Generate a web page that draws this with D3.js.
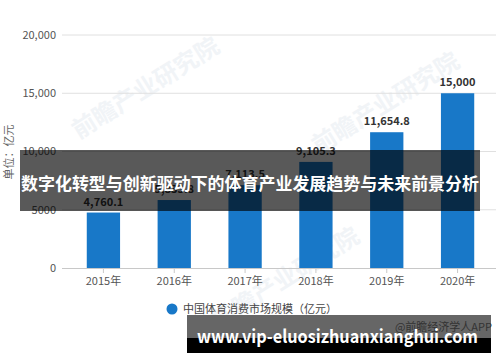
<!DOCTYPE html>
<html><head><meta charset="utf-8">
<script src="https://cdn.jsdelivr.net/npm/d3@7"></script>
<style>body{margin:0;background:#fff}svg{display:block}</style>
</head><body>
<svg id="c" width="500" height="362"></svg>
<script>
const categories = ["2015年","2016年","2017年","2018年","2019年","2020年"];
const values = [4760.1, 5833.8, 7113.5, 9105.3, 11654.8, 15000];
const valueLabels = ["4,760.1","5,833.8","7,113.5","9,105.3","11,654.8","15,000"];
const yTicks = [0, 5000, 10000, 15000, 20000];
const yTickLabels = ["0","5000","10,000","15,000","20,000"];
const seriesName = "中国体育消费市场规模（亿元）";
const yTitle = "单位：亿元";
const bannerTitle = "数字化转型与创新驱动下的体育产业发展趋势与未来前景分析";
const footerUrl = "www.vip-eluosizhuanxianghui.com";
const sourceText = "@前瞻经济学人APP";
const watermark = "前瞻产业研究院";

const font = "'Noto Sans CJK SC','Noto Sans',sans-serif";
const svg = d3.select("#c");
const x = d3.scaleBand().domain(categories).range([68, 493]).paddingInner(0.53).paddingOuter(0.265);
const y = d3.scaleLinear().domain([0, 20000]).range([268, 35]);

// faint watermarks
[[150,95],[390,110],[290,285]].forEach(([wx,wy]) => {
  svg.append("text").attr("transform",`translate(${wx},${wy}) rotate(-32)`)
    .attr("text-anchor","middle").attr("font-family",font).attr("font-size",24).attr("font-weight","bold")
    .attr("fill","#f1f4f7").text(watermark);
});

// gridlines
svg.append("g").selectAll("line").data(yTicks.slice(1)).join("line")
  .attr("x1",62).attr("x2",496).attr("y1",d=>y(d)).attr("y2",d=>y(d))
  .attr("stroke","#e0e0e0").attr("stroke-width",1);

// y tick labels
svg.append("g").selectAll("text").data(yTicks).join("text")
  .attr("x",56).attr("y",d=>y(d)).attr("dy","0.35em").attr("text-anchor","end")
  .attr("font-family",font).attr("font-size",11).attr("fill","#555")
  .text((d,i)=>yTickLabels[i]);

// y title
svg.append("text").attr("transform","translate(13,152) rotate(-90)")
  .attr("text-anchor","middle").attr("font-family",font).attr("font-size",11).attr("fill","#666").text(yTitle);

// bars
svg.append("g").selectAll("rect").data(values).join("rect")
  .attr("x",(d,i)=>x(categories[i])).attr("width",x.bandwidth())
  .attr("y",d=>y(d)).attr("height",d=>y(0)-y(d)).attr("fill","#1878c8");

// value labels
svg.append("g").selectAll("text").data(values).join("text")
  .attr("x",(d,i)=>x(categories[i])+x.bandwidth()/2).attr("y",d=>y(d)-7)
  .attr("text-anchor","middle").attr("font-family",font).attr("font-size",11).attr("font-weight","bold")
  .attr("fill","#333").text((d,i)=>valueLabels[i]);

// x axis
const xAxis = svg.append("g").attr("transform",`translate(0,${y(0)})`)
  .call(d3.axisBottom(x).tickSize(5).tickPadding(4));
xAxis.select(".domain").attr("d","M62,0.5H496").attr("stroke","#c8c8c8");
xAxis.selectAll(".tick line").attr("stroke","#c8c8c8");
xAxis.selectAll(".tick text").attr("font-family",font).attr("font-size",11).attr("fill","#555");

// legend
svg.append("circle").attr("cx",172).attr("cy",309).attr("r",5.5).attr("fill","#1878c8");
svg.append("text").attr("x",183).attr("y",309).attr("dy","0.35em").attr("font-family",font)
  .attr("font-size",11).attr("fill","#444").text(seriesName);

// overlay banner
svg.append("rect").attr("x",20).attr("y",150).attr("width",460).attr("height",61).attr("fill","#000").attr("fill-opacity",0.65);
svg.append("text").attr("x",250).attr("y",184).attr("dy","0.35em").attr("text-anchor","middle")
  .attr("font-family",font).attr("font-size",17).attr("font-weight","bold").attr("fill","#fff")
  .attr("textLength",458).attr("lengthAdjust","spacingAndGlyphs").text(bannerTitle);

// footer banner
svg.append("rect").attr("x",187).attr("y",315).attr("width",304).attr("height",23).attr("fill","#666");
svg.append("rect").attr("x",187).attr("y",338).attr("width",304).attr("height",15).attr("fill","#000");
svg.append("text").attr("x",492).attr("y",327).attr("dy","0.35em").attr("text-anchor","end")
  .attr("font-family",font).attr("font-size",11).attr("fill","#333").text(sourceText);
svg.append("text").attr("x",197).attr("y",343).attr("font-family",font).attr("font-size",18).attr("font-weight","bold")
  .attr("fill","#fff").attr("textLength",281).attr("lengthAdjust","spacingAndGlyphs").text(footerUrl);
</script>
</body></html>
